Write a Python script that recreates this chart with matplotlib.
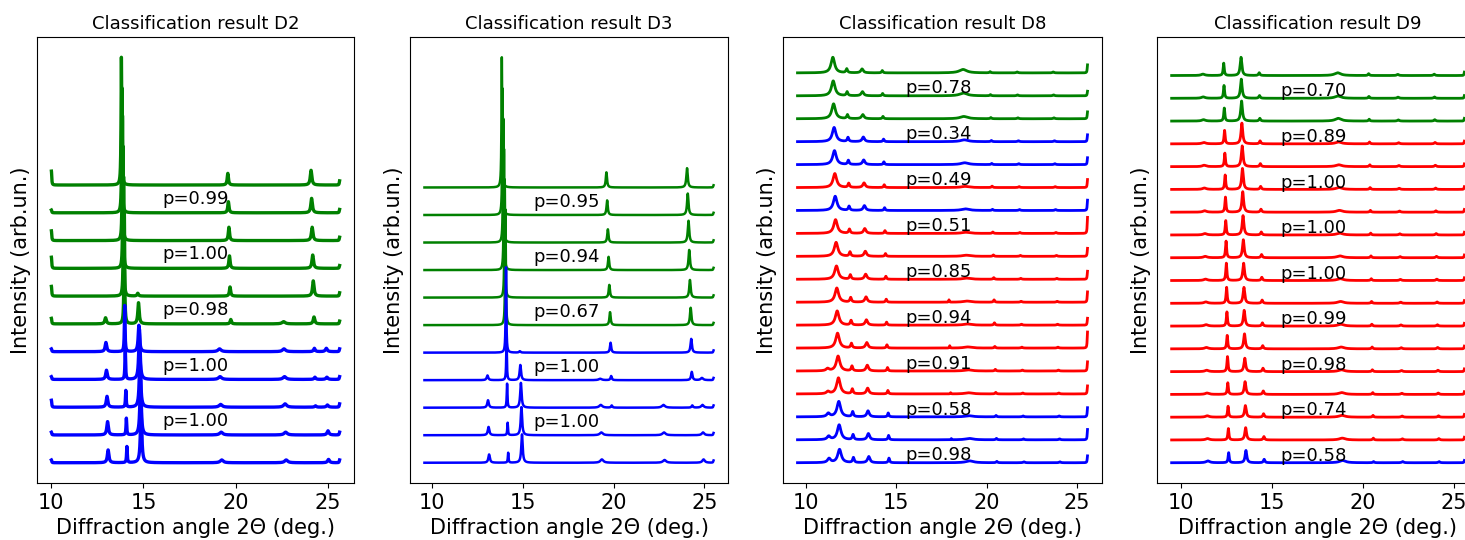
import numpy as np
import matplotlib.pyplot as plt

plt.rcParams['font.family'] = ['DejaVu Sans']

# ---------------- D2 ----------------
d2_title = 'Classification result D2'
d2_range = (10.0, 25.65)
d2_colors = ['green'] * 6 + ['blue'] * 5
d2_pos = [12.78, 13.80, 14.57, 18.95, 19.58, 22.45, 24.10, 24.75]
d2_hw = [0.05, 0.022, 0.045, 0.10, 0.04, 0.10, 0.05, 0.06]
d2_heights = [
    [0.00, 4.60, 0.00, 0.00, 0.42, 0.00, 0.53, 0.00],
    [0.00, 4.50, 0.00, 0.00, 0.40, 0.00, 0.52, 0.00],
    [0.00, 4.50, 0.00, 0.00, 0.48, 0.00, 0.48, 0.00],
    [0.00, 4.40, 0.00, 0.00, 0.45, 0.00, 0.48, 0.00],
    [0.00, 4.30, 0.10, 0.00, 0.33, 0.00, 0.55, 0.00],
    [0.22, 4.00, 0.76, 0.00, 0.16, 0.08, 0.25, 0.00],
    [0.33, 1.66, 0.95, 0.10, 0.00, 0.10, 0.12, 0.12],
    [0.33, 1.10, 1.80, 0.10, 0.00, 0.10, 0.08, 0.08],
    [0.39, 0.60, 1.95, 0.10, 0.00, 0.12, 0.05, 0.08],
    [0.48, 0.60, 2.00, 0.10, 0.00, 0.10, 0.00, 0.15],
    [0.46, 0.58, 2.00, 0.10, 0.00, 0.10, 0.00, 0.12],
]
d2_shift = [0.0, 0.03, 0.06, 0.09, 0.12, 0.16, 0.18, 0.21, 0.24, 0.27, 0.30]
d2_left = [0.5, 0.1, 0.35, 0.4, 0.35, 0.2, 0.1, 0.1, 0.25, 0.1, 0.1]
d2_right = [0.15, 0.12, 0.12, 0.1, 0.12, 0.1, 0.1, 0.1, 0.12, 0.1, 0.1]
d2_labels = ['p=0.99', 'p=1.00', 'p=0.98', 'p=1.00', 'p=1.00']

# ---------------- D3 ----------------
d3_title = 'Classification result D3'
d3_range = (9.58, 25.5)
d3_colors = ['green'] * 6 + ['blue'] * 5
d3_pos = [12.79, 13.84, 14.60, 19.00, 19.60, 22.45, 24.04, 24.60]
d3_hw = [0.05, 0.022, 0.045, 0.10, 0.04, 0.10, 0.045, 0.08]
d3_heights = [
    [0.00, 4.73, 0.00, 0.00, 0.55, 0.00, 0.70, 0.00],
    [0.00, 4.60, 0.00, 0.00, 0.53, 0.00, 0.78, 0.00],
    [0.00, 4.50, 0.00, 0.00, 0.48, 0.00, 0.79, 0.00],
    [0.00, 4.40, 0.00, 0.00, 0.48, 0.00, 0.73, 0.00],
    [0.00, 4.30, 0.00, 0.00, 0.46, 0.00, 0.64, 0.00],
    [0.00, 4.20, 0.00, 0.00, 0.47, 0.00, 0.63, 0.00],
    [0.00, 3.10, 0.05, 0.00, 0.36, 0.00, 0.50, 0.00],
    [0.17, 1.40, 0.55, 0.05, 0.15, 0.00, 0.30, 0.08],
    [0.27, 0.87, 0.90, 0.10, 0.08, 0.10, 0.08, 0.10],
    [0.30, 0.45, 1.02, 0.10, 0.00, 0.10, 0.00, 0.10],
    [0.30, 0.36, 1.03, 0.12, 0.00, 0.10, 0.00, 0.12],
]
d3_shift = [0.0, 0.04, 0.08, 0.12, 0.16, 0.20, 0.23, 0.26, 0.29, 0.32, 0.35]
d3_left = [0.0] * 11
d3_right = [0.08, 0.08, 0.08, 0.08, 0.08, 0.08, 0.08, 0.08, 0.08, 0.08, 0.08]
d3_labels = ['p=0.95', 'p=0.94', 'p=0.67', 'p=1.00', 'p=1.00']

# ---------------- D8 ----------------
d8_title = 'Classification result D8'
d8_range = (9.52, 25.6)
d8_colors = ['green', 'green', 'green', 'blue', 'blue', 'red', 'blue',
             'red', 'red', 'red', 'red', 'red', 'red', 'red', 'red',
             'blue', 'blue', 'blue']
d8_pos = [10.90, 11.48, 12.25, 13.10, 14.22, 17.70, 18.70, 20.20, 21.70, 23.70]
d8_hw = [0.10, 0.12, 0.05, 0.08, 0.04, 0.02, 0.25, 0.04, 0.05, 0.05]
d8_heights = [
    [0.00, 0.68, 0.17, 0.17, 0.10, 0.00, 0.15, 0.05, 0.04, 0.04],
    [0.00, 0.65, 0.17, 0.18, 0.10, 0.00, 0.12, 0.05, 0.04, 0.04],
    [0.00, 0.65, 0.17, 0.18, 0.10, 0.00, 0.10, 0.05, 0.04, 0.04],
    [0.00, 0.62, 0.18, 0.20, 0.11, 0.00, 0.08, 0.05, 0.04, 0.04],
    [0.00, 0.61, 0.18, 0.20, 0.12, 0.00, 0.08, 0.05, 0.04, 0.04],
    [0.00, 0.61, 0.18, 0.20, 0.12, 0.00, 0.05, 0.06, 0.04, 0.04],
    [0.00, 0.62, 0.18, 0.21, 0.12, 0.00, 0.07, 0.05, 0.04, 0.04],
    [0.00, 0.60, 0.18, 0.21, 0.12, 0.00, 0.05, 0.06, 0.04, 0.04],
    [0.00, 0.61, 0.19, 0.22, 0.12, 0.00, 0.05, 0.06, 0.04, 0.04],
    [0.00, 0.58, 0.19, 0.22, 0.13, 0.00, 0.05, 0.07, 0.04, 0.04],
    [0.00, 0.62, 0.20, 0.23, 0.13, 0.10, 0.05, 0.10, 0.04, 0.04],
    [0.00, 0.62, 0.20, 0.23, 0.13, 0.00, 0.05, 0.10, 0.04, 0.04],
    [0.00, 0.65, 0.20, 0.24, 0.14, 0.10, 0.05, 0.07, 0.04, 0.04],
    [0.10, 0.65, 0.21, 0.25, 0.15, 0.00, 0.05, 0.07, 0.04, 0.04],
    [0.10, 0.70, 0.21, 0.25, 0.15, 0.05, 0.05, 0.07, 0.04, 0.04],
    [0.15, 0.67, 0.22, 0.26, 0.17, 0.00, 0.05, 0.06, 0.04, 0.04],
    [0.15, 0.65, 0.22, 0.27, 0.19, 0.05, 0.06, 0.06, 0.04, 0.04],
    [0.18, 0.58, 0.22, 0.27, 0.20, 0.00, 0.08, 0.06, 0.04, 0.04],
]
d8_shift = [0.0, 0.02, 0.04, 0.07, 0.09, 0.11, 0.13, 0.15, 0.18,
            0.20, 0.22, 0.24, 0.26, 0.29, 0.31, 0.33, 0.35, 0.37]
d8_left = [0.0] * 18
d8_right = [0.35, 0.2, 0.3, 0.3, 0.3, 0.35, 0.45, 0.7, 0.35,
            0.35, 0.45, 0.3, 0.7, 0.4, 0.35, 0.4, 0.45, 0.3]
d8_labels = ['p=0.78', 'p=0.34', 'p=0.49', 'p=0.51', 'p=0.85',
             'p=0.94', 'p=0.91', 'p=0.58', 'p=0.98']

# ---------------- D9 ----------------
d9_title = 'Classification result D9'
d9_range = (9.48, 25.56)
d9_colors = ['green'] * 3 + ['red'] * 14 + ['blue']
d9_pos = [11.20, 12.34, 13.29, 14.29, 18.60, 20.30, 21.90, 23.90]
d9_hw = [0.12, 0.035, 0.055, 0.045, 0.20, 0.04, 0.06, 0.05]
d9_heights = [
    [0.06, 0.54, 0.80, 0.12, 0.12, 0.08, 0.05, 0.06],
    [0.06, 0.56, 0.84, 0.12, 0.10, 0.08, 0.05, 0.06],
    [0.06, 0.57, 0.88, 0.12, 0.12, 0.08, 0.05, 0.06],
    [0.06, 0.59, 0.91, 0.13, 0.08, 0.08, 0.05, 0.06],
    [0.06, 0.59, 0.91, 0.13, 0.08, 0.08, 0.05, 0.06],
    [0.06, 0.63, 0.92, 0.13, 0.08, 0.08, 0.05, 0.06],
    [0.06, 0.66, 0.90, 0.13, 0.08, 0.08, 0.05, 0.06],
    [0.06, 0.63, 0.85, 0.13, 0.08, 0.08, 0.05, 0.06],
    [0.06, 0.73, 0.79, 0.14, 0.08, 0.08, 0.05, 0.06],
    [0.06, 0.76, 0.76, 0.14, 0.08, 0.08, 0.05, 0.06],
    [0.06, 0.70, 0.70, 0.14, 0.08, 0.08, 0.05, 0.06],
    [0.06, 0.62, 0.69, 0.14, 0.08, 0.08, 0.05, 0.06],
    [0.06, 0.59, 0.66, 0.14, 0.08, 0.08, 0.05, 0.06],
    [0.06, 0.66, 0.59, 0.15, 0.08, 0.08, 0.05, 0.06],
    [0.06, 0.51, 0.56, 0.15, 0.08, 0.08, 0.05, 0.06],
    [0.06, 0.48, 0.51, 0.15, 0.08, 0.08, 0.05, 0.06],
    [0.06, 0.50, 0.54, 0.15, 0.08, 0.08, 0.05, 0.06],
    [0.08, 0.44, 0.54, 0.15, 0.10, 0.05, 0.05, 0.05],
]
d9_shift = [0.0, 0.016, 0.032, 0.048, 0.064, 0.08, 0.096, 0.112, 0.128,
            0.144, 0.16, 0.176, 0.192, 0.208, 0.224, 0.24, 0.256, 0.272]
d9_left = [0.0] * 18
d9_right = [0.15, 0.12, 0.12, 0.12, 0.12, 0.12, 0.12, 0.12, 0.12,
            0.12, 0.12, 0.12, 0.12, 0.12, 0.12, 0.12, 0.12, 0.1]
d9_labels = ['p=0.70', 'p=0.89', 'p=1.00', 'p=1.00', 'p=1.00',
             'p=0.99', 'p=0.98', 'p=0.74', 'p=0.58']


def lorentz(x, c, hw, h):
    return h / (1.0 + ((x - c) / hw) ** 2)


panels = [
    (d2_title, d2_range, d2_colors, d2_pos, d2_hw, d2_heights, d2_shift, d2_left, d2_right, d2_labels),
    (d3_title, d3_range, d3_colors, d3_pos, d3_hw, d3_heights, d3_shift, d3_left, d3_right, d3_labels),
    (d8_title, d8_range, d8_colors, d8_pos, d8_hw, d8_heights, d8_shift, d8_left, d8_right, d8_labels),
    (d9_title, d9_range, d9_colors, d9_pos, d9_hw, d9_heights, d9_shift, d9_left, d9_right, d9_labels),
]

# layout (pixels in a 1465x540 canvas)
W, H = 1465, 540
ax_left = [37, 410, 783, 1157]
ax_width = [317, 318, 319, 322]
ax_bottom, ax_top = 483, 37
line_w = [2.4, 1.8, 2.0, 2.0]
label_frac = [0.5, 0.47, 0.32, 0.3]

fig = plt.figure(figsize=(W / 100, H / 100), dpi=100)

for k, (title, xr, colors, pos, hw, heights, shift, left, right, labels) in enumerate(panels):
    ax = fig.add_axes([ax_left[k] / W, (H - ax_bottom) / H,
                       ax_width[k] / W, (ax_bottom - ax_top) / H])
    x = np.arange(xr[0], xr[1] + 0.001, 0.005)
    n = len(colors)
    for i in range(n):
        off = n - 1 - i
        y = np.zeros_like(x)
        for c, w, h in zip(pos, hw, heights[i]):
            if h > 0:
                y += lorentz(x, c + shift[i], w, h)
        y += lorentz(x, xr[0], 0.02, left[i])
        y += lorentz(x, xr[1], 0.02, right[i])
        ax.plot(x, y + off, color=colors[i], lw=line_w[k])
    for j, lab in enumerate(labels):
        yl = (n - 1 - (2 * j + 1)) + label_frac[k]
        ax.text(xr[0] + 6, yl, lab, fontsize=13, ha='left', va='center')
    ax.set_title(title, fontsize=13)
    ax.set_xlabel('Diffraction angle 2\u0398 (deg.)', fontsize=15)
    ax.set_ylabel('Intensity (arb.un.)', fontsize=15)
    ax.set_yticks([])
    ax.set_xticks([10, 15, 20, 25])
    ax.tick_params(axis='x', labelsize=15)

fig.savefig('out.png', dpi=100)
